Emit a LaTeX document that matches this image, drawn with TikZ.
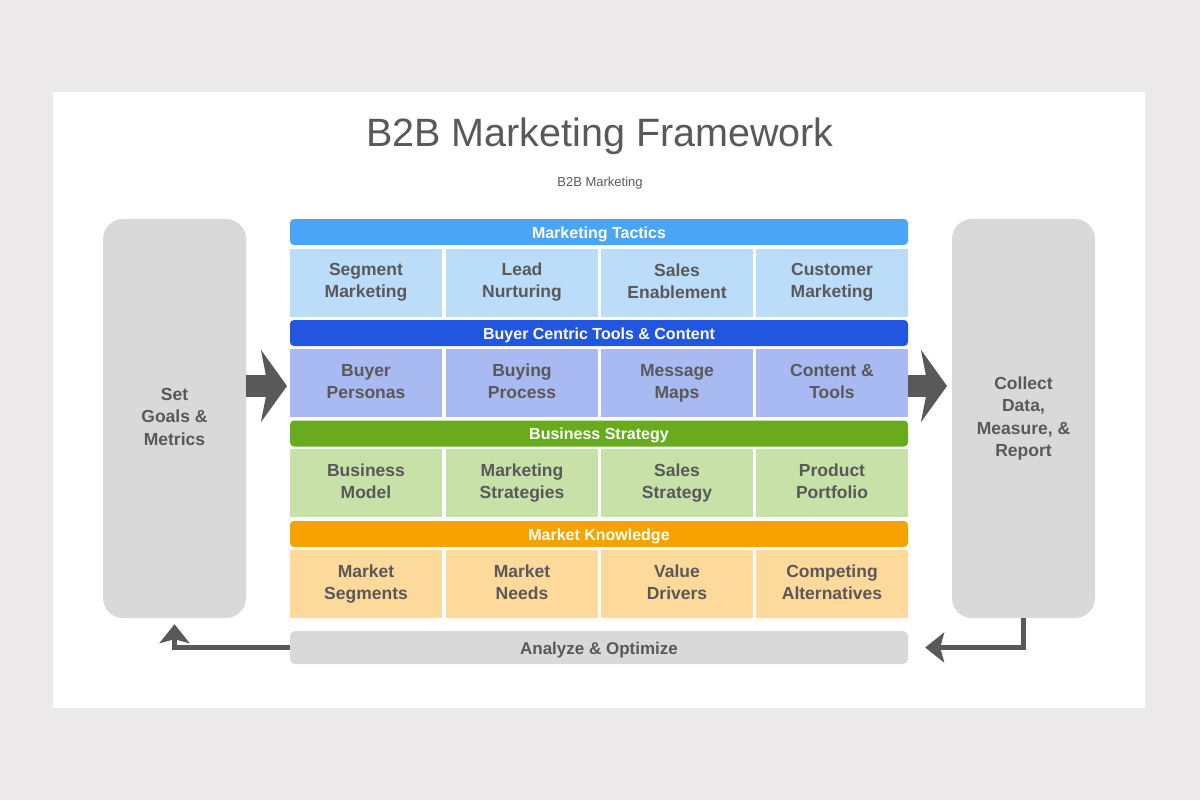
\documentclass[tikz,border=0pt]{standalone}
\usepackage{fontspec}
\setmainfont{Liberation Sans}
\usetikzlibrary{arrows.meta}
\definecolor{bgc}{HTML}{EBE9EA}
\definecolor{txt}{HTML}{595959}
\definecolor{panel}{HTML}{D9D9D9}
\definecolor{hA}{HTML}{4AA5F7}
\definecolor{cA}{HTML}{BCDDFA}
\definecolor{hB}{HTML}{2356E0}
\definecolor{cB}{HTML}{A9B9F1}
\definecolor{hC}{HTML}{68AC1E}
\definecolor{cC}{HTML}{C7E1A9}
\definecolor{hD}{HTML}{F6A200}
\definecolor{cD}{HTML}{FDD99B}
\definecolor{arr}{HTML}{595959}
\newcommand{\evenstrut}{\rule[-0.165\baselineskip]{0pt}{\baselineskip}}
\tikzset{
  even/.style={execute at begin node=\evenstrut, execute at end node=\evenstrut},
  hdr/.style={even, rounded corners=4pt, minimum width=618pt, minimum height=26pt, inner sep=0pt,
    text=white, font=\bfseries\fontsize{16}{19}\selectfont},
  cellbox/.style={even, minimum width=152pt, minimum height=68pt, inner sep=0pt, align=center,
    text=txt, font=\bfseries\fontsize{17.5}{22}\selectfont},
  sidepanel/.style={even, fill=panel, rounded corners=20pt, minimum width=143pt, minimum height=399pt,
    inner sep=0pt, align=center, text=txt, font=\bfseries\fontsize{17.5}{22.5}\selectfont},
  bigarrow/.style={draw=arr, line width=22pt, -{Stealth[length=26pt, width=72pt, inset=7pt]}},
  retarrow/.style={draw=arr, line width=5pt, -{Stealth[length=19pt, width=30pt, inset=4pt]}},
}
\begin{document}
\begin{tikzpicture}[x=1pt, y=-1pt]
\useasboundingbox (0,0) rectangle (1200,800);
\fill[bgc] (0,0) rectangle (1200,800);
\fill[white] (53,92) rectangle (1145,708);
\node[text=txt, font=\fontsize{39.5}{46}\selectfont] (title) at (600,136) {B2B Marketing Framework};
\node[text=txt, font=\fontsize{13}{16}\selectfont] (subtitle) at (600,183) {B2B Marketing};

\node[sidepanel] (setgoals) at (174.5,418.5) {Set\\Goals \&\\Metrics};
\node[sidepanel] (collect) at (1023.5,418.5) {Collect\\Data,\\Measure, \&\\Report};

% row 1
\node[hdr, fill=hA] (h1) at (599,232) {Marketing Tactics};
\node[cellbox, fill=cA] (c11) at (366,282.5) {Segment\\Marketing};
\node[cellbox, fill=cA] (c12) at (522,282.5) {Lead\\Nurturing};
\node[cellbox, fill=cA] (c13) at (677,282.5) {Sales\\Enablement};
\node[cellbox, fill=cA] (c14) at (832,282.5) {Customer\\Marketing};
% row 2
\node[hdr, fill=hB] (h2) at (599,333) {Buyer Centric Tools \& Content};
\node[cellbox, fill=cB] (c21) at (366,383) {Buyer\\Personas};
\node[cellbox, fill=cB] (c22) at (522,383) {Buying\\Process};
\node[cellbox, fill=cB] (c23) at (677,383) {Message\\Maps};
\node[cellbox, fill=cB] (c24) at (832,383) {Content \&\\Tools};
% row 3
\node[hdr, fill=hC] (h3) at (599,433.5) {Business Strategy};
\node[cellbox, fill=cC] (c31) at (366,483) {Business\\Model};
\node[cellbox, fill=cC] (c32) at (522,483) {Marketing\\Strategies};
\node[cellbox, fill=cC] (c33) at (677,483) {Sales\\Strategy};
\node[cellbox, fill=cC] (c34) at (832,483) {Product\\Portfolio};
% row 4
\node[hdr, fill=hD] (h4) at (599,534) {Market Knowledge};
\node[cellbox, fill=cD] (c41) at (366,584) {Market\\Segments};
\node[cellbox, fill=cD] (c42) at (522,584) {Market\\Needs};
\node[cellbox, fill=cD] (c43) at (677,584) {Value\\Drivers};
\node[cellbox, fill=cD] (c44) at (832,584) {Competing\\Alternatives};

\node[even, fill=panel, rounded corners=5pt, minimum width=618pt, minimum height=33pt, inner sep=0pt,
  text=txt, font=\bfseries\fontsize{17}{20}\selectfont] (analyze) at (599,647.5) {Analyze \& Optimize};

% big arrows
\coordinate (la) at (287,386);
\coordinate (ra) at (947,386);
\draw[bigarrow] (setgoals.east |- la) -- (la);
\draw[bigarrow] (c24.east |- ra) -- (ra);

% return arrows
\draw[retarrow] (analyze.west) -| ([yshift=-6pt]setgoals.south);
\draw[retarrow] (collect.south) |- ([xshift=17pt]analyze.east);
\end{tikzpicture}
\end{document}
